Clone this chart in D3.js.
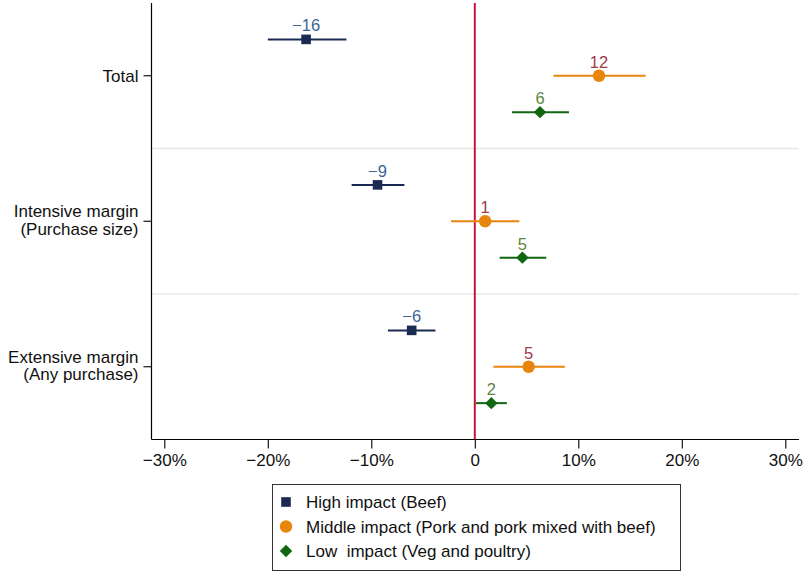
<!DOCTYPE html>
<html>
<head>
<meta charset="utf-8">
<script src="https://cdn.jsdelivr.net/npm/d3@7"></script>
<style>
  html, body { margin: 0; padding: 0; background: #fff; }
  svg { display: block; font-family: "Liberation Sans", Arial, Helvetica, sans-serif; }
  .legend-text { white-space: pre; }
</style>
</head>
<body>
<svg id="chart" width="805" height="572"></svg>
<script>
// Outcome groups (top to bottom) and their two-line labels
const groups = ["Total", "Intensive margin", "Extensive margin"];
const groupLabels = [["Total"], ["Intensive margin", "(Purchase size)"], ["Extensive margin", "(Any purchase)"]];

// Product categories
const series = ["High impact (Beef)", "Middle impact (Pork and pork mixed with beef)", "Low  impact (Veg and poultry)"];

// Point estimates (%) per group, one array per category
const highEst = [-16.3, -9.4, -6.1];
const midEst = [12.0, 1.0, 5.2];
const lowEst = [6.3, 4.6, 1.6];

// Confidence intervals (%)
const highLo = [-20.0, -11.9, -8.4];
const highHi = [-12.4, -6.8, -3.8];
const midLo = [7.6, -2.3, 1.8];
const midHi = [16.5, 4.3, 8.7];
const lowLo = [3.6, 2.4, 0.1];
const lowHi = [9.1, 6.9, 3.1];

// X-axis ticks
const xTicks = [-30, -20, -10, 0, 10, 20, 30];

const est = [highEst, midEst, lowEst];
const lo = [highLo, midLo, lowLo];
const hi = [highHi, midHi, lowHi];

const markerColors = ["#1b2a52", "#e8850c", "#116611"];
const labelColors = ["#3b6591", "#a0394a", "#5e853c"];

// Square, circle and a diamond (square turned 45 degrees)
function marker(sel, si) {
  if (si === 0) {
    sel.append("rect").attr("x", -4.8).attr("y", -4.8).attr("width", 9.6).attr("height", 9.6);
  } else if (si === 1) {
    sel.append("circle").attr("r", 6.2);
  } else {
    sel.append("rect").attr("x", -4.4).attr("y", -4.4).attr("width", 8.8).attr("height", 8.8)
      .attr("transform", "rotate(45)");
  }
  sel.attr("fill", markerColors[si]);
}

const svg = d3.select("#chart");

const plotL = 151.5, plotR = 799, plotT = 3, plotB = 439.5;
const FS = 17;

const x = d3.scaleLinear().domain([-30, 30]).range([164.3, 785.3]);
// Each group takes four slots: three rows plus a separator
const y = d3.scaleLinear().domain([0, 12]).range([plotT, plotB]);

// Light separators between groups
svg.append("g").selectAll("line")
  .data([4, 8])
  .join("line")
  .attr("x1", plotL).attr("x2", plotR)
  .attr("y1", d => y(d)).attr("y2", d => y(d))
  .attr("stroke", "#e6e8ea").attr("stroke-width", 1.6);

// Zero reference line
svg.append("line")
  .attr("x1", x(0)).attr("x2", x(0))
  .attr("y1", plotT).attr("y2", plotB)
  .attr("stroke", "#c8143c").attr("stroke-width", 2);

// Axes frame (left and bottom)
svg.append("line").attr("x1", plotL).attr("x2", plotL).attr("y1", plotT).attr("y2", plotB)
  .attr("stroke", "#000").attr("stroke-width", 1.2);
svg.append("line").attr("x1", plotL).attr("x2", plotR).attr("y1", plotB).attr("y2", plotB)
  .attr("stroke", "#000").attr("stroke-width", 1.2);

// X axis
const xAxis = d3.axisBottom(x)
  .tickValues(xTicks)
  .tickSize(9)
  .tickPadding(5)
  .tickFormat(d => d === 0 ? "0" : (d < 0 ? "\u2212" + Math.abs(d) : d) + "%");
const gx = svg.append("g").attr("transform", `translate(0,${plotB})`).call(xAxis);
gx.select(".domain").remove();
gx.selectAll(".tick line").attr("stroke", "#000").attr("stroke-width", 1.1);
gx.selectAll(".tick text").attr("font-size", FS).attr("fill", "#111")
  .attr("font-family", "'Liberation Sans', Arial, sans-serif");

// Y axis: group ticks at middle rows
const gy = svg.append("g");
groups.forEach((g, i) => {
  const yy = y(4 * i + 2);
  gy.append("line").attr("x1", plotL - 8).attr("x2", plotL).attr("y1", yy).attr("y2", yy)
    .attr("stroke", "#000").attr("stroke-width", 1.1);
  const lines = groupLabels[i];
  const t = gy.append("text").attr("text-anchor", "end").attr("font-size", FS).attr("fill", "#111");
  lines.forEach((ln, j) => {
    t.append("tspan").attr("x", plotL - 13)
      .attr("y", yy + 6 + (j - (lines.length - 1) / 2) * 17.5 - (lines.length - 1) * 1.5)
      .text(ln);
  });
});

// Estimates with confidence intervals
series.forEach((s, si) => {
  const rows = groups.map((g, gi) => ({
    est: est[si][gi], lo: lo[si][gi], hi: hi[si][gi], slot: 4 * gi + 1 + si
  }));
  const gs = svg.append("g");
  gs.selectAll("line.ci").data(rows).join("line").attr("class", "ci")
    .attr("x1", d => x(d.lo)).attr("x2", d => x(d.hi))
    .attr("y1", d => y(d.slot)).attr("y2", d => y(d.slot))
    .attr("stroke", markerColors[si]).attr("stroke-width", 2);
  gs.selectAll("g.mk").data(rows).join("g").attr("class", "mk")
    .attr("transform", d => `translate(${x(d.est)},${y(d.slot)})`)
    .each(function () { marker(d3.select(this), si); });
  gs.selectAll("text.lb").data(rows).join("text").attr("class", "lb")
    .attr("x", d => x(d.est)).attr("y", d => y(d.slot) - 8)
    .attr("text-anchor", "middle").attr("font-size", 16.5)
    .attr("fill", labelColors[si])
    .text(d => { const r = Math.round(d.est); return r < 0 ? "\u2212" + Math.abs(r) : String(r); });
});

// Legend
const lg = svg.append("g");
lg.append("rect").attr("x", 272.5).attr("y", 484.5).attr("width", 408).attr("height", 86)
  .attr("fill", "#fff").attr("stroke", "#333").attr("stroke-width", 1);
series.forEach((s, si) => {
  const yy = 502 + si * 24.5;
  lg.append("g").attr("transform", `translate(286,${yy})`).call(marker, si);
  lg.append("text").attr("class", "legend-text").attr("xml:space", "preserve")
    .attr("x", 306).attr("y", yy + 6).attr("font-size", FS).attr("fill", "#111").text(s);
});
</script>
</body>
</html>
